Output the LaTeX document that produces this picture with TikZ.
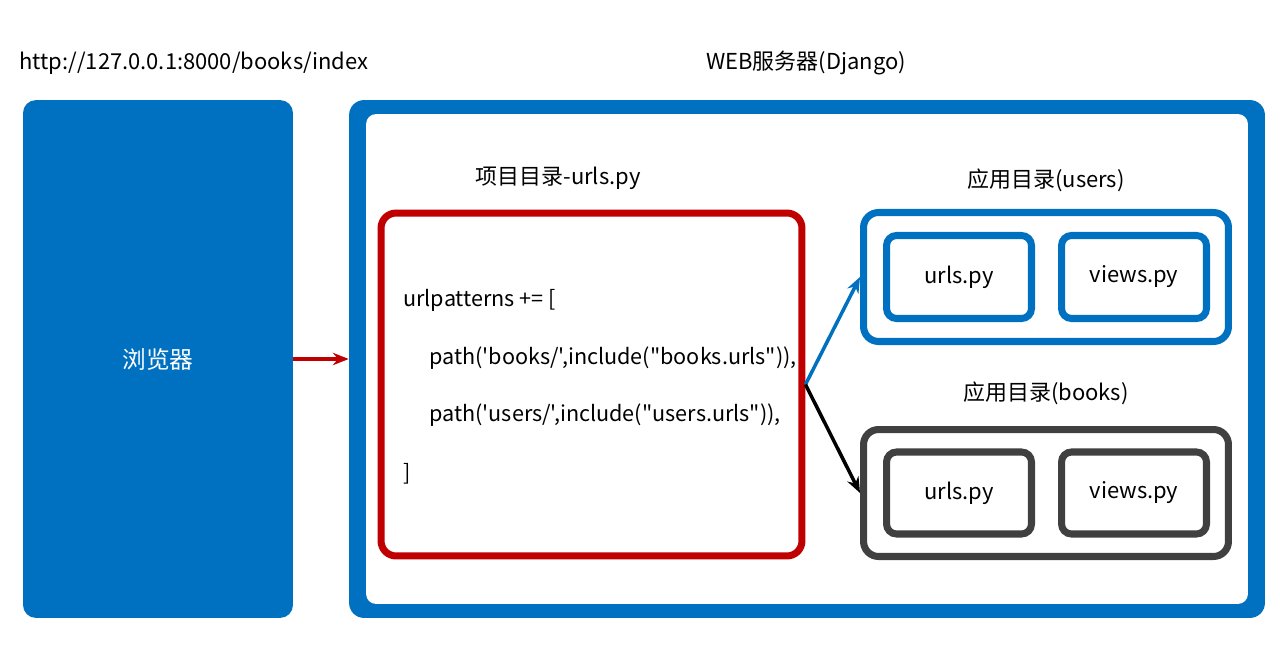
\documentclass[tikz,border=0pt]{standalone}
\usepackage{fontspec}
\newfontfamily\cjk{Noto Sans CJK SC}
\usetikzlibrary{arrows.meta}
\tikzset{>={Stealth[length=9pt,width=7pt]}}
\definecolor{myblue}{RGB}{0, 112, 192}
\definecolor{myred}{RGB}{192, 0, 0}
\definecolor{mygray}{RGB}{64, 64, 64}

\begin{document}
\begin{tikzpicture}[
    x = 0.02cm, y = -0.02cm,
    every node/.style = {font = \cjk\fontsize{12.5}{15}\selectfont, inner sep = 0pt},
    box/.style = {draw, rounded corners = 0.3cm, line width = 4pt},
    small/.style = {draw, rounded corners = 0.2cm, line width = 4pt, text = black},
    lbl/.style = {anchor = west, font = \cjk\fontsize{12.3}{15}\selectfont}
]

\useasboundingbox (0,0) rectangle (1280,658);

\node[fill = myblue, rounded corners = 0.26cm, minimum width = 5.4cm, minimum height = 10.36cm] (browser) at (158,359) {};
\node[white, font = \cjk\fontsize{13.5}{16}\selectfont] (browserlbl) at (browser) {浏览器};
\node (url) at (194,63) {http://127.0.0.1:8000/books/index};

\node[fill = myblue, rounded corners = 0.3cm, minimum width = 18.32cm, minimum height = 10.36cm] (server) at (807,359) {};
\node[fill = white, rounded corners = 0.2cm, minimum width = 17.64cm, minimum height = 9.8cm] (inner) at (807,359) {};
\node (web) at (806,63) {WEB服务器(Django)};

% project urls
\node[box, myred, minimum width = 8.42cm, minimum height = 6.86cm] (proj) at (591.5,384.5) {};
\node (projlbl) at (558,178) {项目目录-urls.py};
\node[lbl] (l1) at (403,300) {urlpatterns += [};
\node[lbl] (l2) at (429,358) {path('books/',include("books.urls")),};
\node[lbl] (l3) at (429,415) {path('users/',include("users.urls")),};
\node[lbl] (l4) at (403,474) {]};

% apps
\node[box, myblue, minimum width = 7.3cm, minimum height = 2.58cm] (users) at (1046,277) {};
\node[myblue, small, minimum width = 2.9cm, minimum height = 1.66cm] (uurls) at (959,277) {urls.py};
\node[myblue, small, minimum width = 2.9cm, minimum height = 1.66cm] (uviews) at (1134,277) {views.py};
\node (userslbl) at (1046,180) {应用目录(users)};

\node[box, mygray, minimum width = 7.3cm, minimum height = 2.54cm] (books) at (1046,493) {};
\node[mygray, small, minimum width = 2.9cm, minimum height = 1.64cm] (burls) at (959,493) {urls.py};
\node[mygray, small, minimum width = 2.9cm, minimum height = 1.64cm] (bviews) at (1134,493) {views.py};
\node (bookslbl) at (1046,393) {应用目录(books)};

\draw[->, myred, line width = 2pt] (browser.east) -- (server.west);
\draw[->, myblue, line width = 2pt] (proj.east) -- (users.west);
\draw[->, black, line width = 2pt] (proj.east) -- (books.west);
\end{tikzpicture}
\end{document}
